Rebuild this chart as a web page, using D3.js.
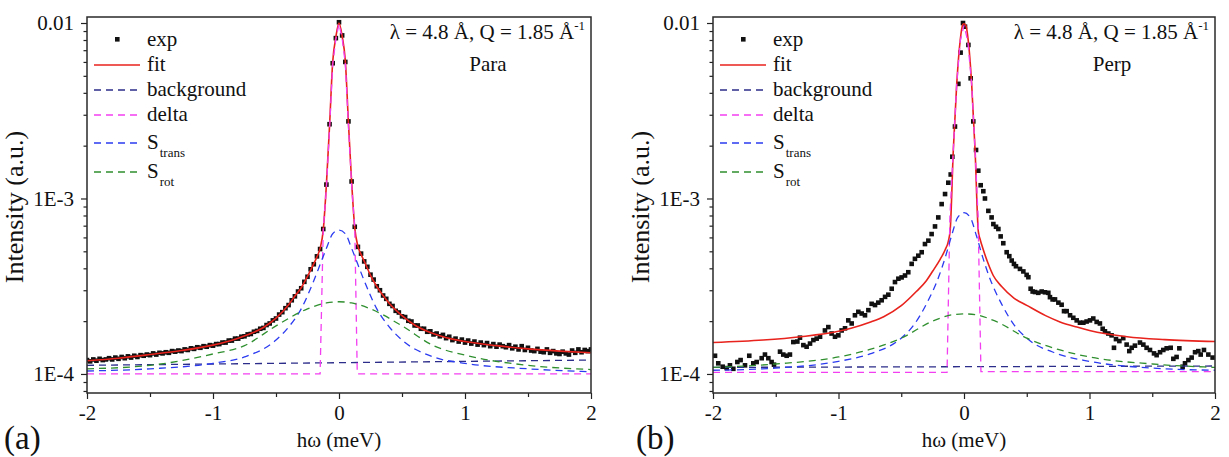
<!DOCTYPE html>
<html>
<head>
<meta charset="utf-8">
<script src="https://cdn.jsdelivr.net/npm/d3@7"></script>
<style>
    body { margin: 0; background: #fff; }
    svg, svg text { font-family: "Liberation Serif", "Times New Roman", serif; }
    .tick text { font-size: 21px; fill: #111; }
    .tick line { stroke: #222; stroke-width: 1.2; }
</style>
</head>
<body>
<svg width="1229" height="457"></svg>
<script>
// energy transfer (meV) vs intensity (a.u.)

const expPara = [
    [-2,1.20e-4],[-1.975,1.18e-4],[-1.95,1.21e-4],[-1.925,1.19e-4],[-1.9,1.22e-4],[-1.875,1.20e-4],[-1.85,1.21e-4],[-1.825,1.23e-4],[-1.8,1.21e-4],[-1.775,1.24e-4],
    [-1.75,1.22e-4],[-1.725,1.25e-4],[-1.7,1.23e-4],[-1.675,1.26e-4],[-1.65,1.24e-4],[-1.625,1.27e-4],[-1.6,1.25e-4],[-1.575,1.28e-4],[-1.55,1.27e-4],[-1.525,1.29e-4],
    [-1.5,1.28e-4],[-1.475,1.31e-4],[-1.45,1.29e-4],[-1.425,1.32e-4],[-1.4,1.31e-4],[-1.375,1.33e-4],[-1.35,1.32e-4],[-1.325,1.35e-4],[-1.3,1.34e-4],[-1.275,1.36e-4],
    [-1.25,1.35e-4],[-1.225,1.38e-4],[-1.2,1.37e-4],[-1.175,1.40e-4],[-1.15,1.39e-4],[-1.125,1.42e-4],[-1.1,1.41e-4],[-1.075,1.44e-4],[-1.05,1.43e-4],[-1.025,1.46e-4],
    [-1,1.45e-4],[-0.975,1.48e-4],[-0.95,1.48e-4],[-0.925,1.51e-4],[-0.9,1.51e-4],[-0.875,1.55e-4],[-0.85,1.55e-4],[-0.825,1.59e-4],[-0.8,1.59e-4],[-0.775,1.63e-4],
    [-0.75,1.64e-4],[-0.725,1.68e-4],[-0.7,1.69e-4],[-0.675,1.74e-4],[-0.65,1.76e-4],[-0.625,1.81e-4],[-0.6,1.83e-4],[-0.575,1.90e-4],[-0.55,1.94e-4],[-0.525,2.02e-4],
    [-0.5,2.07e-4],[-0.475,2.18e-4],[-0.45,2.25e-4],[-0.425,2.37e-4],[-0.4,2.47e-4],[-0.375,2.63e-4],[-0.35,2.77e-4],[-0.325,2.95e-4],[-0.3,3.08e-4],[-0.275,3.35e-4],
    [-0.25,3.58e-4],[-0.225,3.95e-4],[-0.2,4.22e-4],[-0.175,4.68e-4],[-0.15,5.15e-4],[-0.125,6.7e-4],[-0.1,1.2e-3],[-0.075,2.65e-3],[-0.05,5.9e-3],[-0.025,8.2e-3],
    [0,1.01e-2],[0.025,8.5e-3],[0.05,6.0e-3],[0.075,2.75e-3],[0.1,1.25e-3],[0.125,6.9e-4],[0.15,5.3e-4],[0.175,4.85e-4],[0.2,4.38e-4],[0.225,4.08e-4],
    [0.25,3.68e-4],[0.275,3.45e-4],[0.3,3.16e-4],[0.325,3.00e-4],[0.35,2.80e-4],[0.375,2.68e-4],[0.4,2.51e-4],[0.425,2.44e-4],[0.45,2.29e-4],[0.475,2.24e-4],
    [0.5,2.13e-4],[0.525,2.11e-4],[0.55,2.01e-4],[0.575,1.99e-4],[0.6,1.89e-4],[0.625,1.89e-4],[0.65,1.81e-4],[0.675,1.81e-4],[0.7,1.74e-4],[0.725,1.75e-4],
    [0.75,1.68e-4],[0.775,1.70e-4],[0.8,1.64e-4],[0.825,1.67e-4],[0.85,1.60e-4],[0.875,1.63e-4],[0.9,1.56e-4],[0.925,1.59e-4],[0.95,1.53e-4],[0.975,1.57e-4],
    [1,1.51e-4],[1.025,1.55e-4],[1.05,1.49e-4],[1.075,1.53e-4],[1.1,1.47e-4],[1.125,1.51e-4],[1.15,1.46e-4],[1.175,1.50e-4],[1.2,1.44e-4],[1.225,1.48e-4],
    [1.25,1.43e-4],[1.275,1.47e-4],[1.3,1.44e-4],[1.325,1.42e-4],[1.35,1.46e-4],[1.375,1.40e-4],[1.4,1.43e-4],[1.425,1.38e-4],[1.45,1.44e-4],[1.475,1.37e-4],
    [1.5,1.41e-4],[1.525,1.36e-4],[1.55,1.35e-4],[1.575,1.39e-4],[1.6,1.34e-4],[1.625,1.33e-4],[1.65,1.38e-4],[1.675,1.32e-4],[1.7,1.35e-4],[1.725,1.31e-4],
    [1.75,1.30e-4],[1.775,1.34e-4],[1.8,1.31e-4],[1.825,1.29e-4],[1.85,1.36e-4],[1.875,1.32e-4],[1.9,1.38e-4],[1.925,1.33e-4],[1.95,1.37e-4],[1.975,1.35e-4],
    [2,1.38e-4]
];
const fitPara = [
    [-2,1.19e-4],[-1.75,1.23e-4],[-1.5,1.29e-4],[-1.25,1.36e-4],[-1,1.46e-4],[-0.9,1.52e-4],[-0.8,1.60e-4],[-0.7,1.70e-4],[-0.6,1.84e-4],[-0.5,2.08e-4],
    [-0.4,2.48e-4],[-0.35,2.78e-4],[-0.3,3.1e-4],[-0.25,3.6e-4],[-0.2,4.25e-4],[-0.175,4.65e-4],[-0.15,5.2e-4],[-0.125,6.6e-4],[-0.1,1.2e-3],[-0.075,2.6e-3],
    [-0.05,6.0e-3],[-0.025,8.3e-3],[0,1.0e-2],[0.025,8.4e-3],[0.05,6.1e-3],[0.075,2.7e-3],[0.1,1.25e-3],[0.125,6.8e-4],[0.15,5.35e-4],[0.175,4.8e-4],
    [0.2,4.4e-4],[0.25,3.65e-4],[0.3,3.15e-4],[0.35,2.8e-4],[0.4,2.52e-4],[0.5,2.15e-4],[0.6,1.9e-4],[0.7,1.75e-4],[0.8,1.65e-4],[0.9,1.58e-4],
    [1,1.53e-4],[1.25,1.45e-4],[1.5,1.39e-4],[1.75,1.35e-4],[2,1.32e-4]
];
const bgPara = [[-2,1.12e-4],[2,1.20e-4]];
const deltaPara = [
    [-2,1.0e-4],[-0.15,1.0e-4],[-0.125,6.6e-4],[-0.1,1.15e-3],[-0.075,2.5e-3],[-0.05,5.8e-3],[-0.025,8.1e-3],[0,9.9e-3],
    [0.025,8.2e-3],[0.05,5.9e-3],[0.075,2.6e-3],[0.1,1.2e-3],[0.125,6.8e-4],[0.145,1.0e-4],[2,1.0e-4]
];
const transPara = [
    [-2,1.04e-4],[-1.5,1.07e-4],[-1,1.15e-4],[-0.75,1.25e-4],[-0.5,1.56e-4],[-0.4,1.85e-4],[-0.3,2.35e-4],[-0.2,3.4e-4],[-0.15,4.2e-4],[-0.1,5.2e-4],
    [-0.05,6.3e-4],[0,6.6e-4],[0.05,6.3e-4],[0.1,5.2e-4],[0.15,4.2e-4],[0.2,3.4e-4],[0.3,2.35e-4],[0.4,1.85e-4],[0.5,1.56e-4],[0.75,1.25e-4],
    [1,1.15e-4],[1.5,1.07e-4],[2,1.03e-4]
];
const rotPara = [
    [-2,1.07e-4],[-1.5,1.12e-4],[-1,1.30e-4],[-0.75,1.45e-4],[-0.5,1.88e-4],[-0.25,2.35e-4],[-0.1,2.54e-4],[0,2.58e-4],
    [0.1,2.54e-4],[0.25,2.35e-4],[0.5,1.88e-4],[0.75,1.45e-4],[1,1.28e-4],[1.5,1.12e-4],[2,1.06e-4]
];

const expPerp = [
    [-1.984,1.27e-4],[-1.958,1.15e-4],[-1.923,1.10e-4],[-1.891,1.08e-4],[-1.865,1.12e-4],[-1.838,1.07e-4],[-1.806,1.17e-4],[-1.78,1.20e-4],[-1.745,1.12e-4],[-1.711,1.27e-4],
    [-1.679,1.15e-4],[-1.652,1.17e-4],[-1.612,1.23e-4],[-1.586,1.29e-4],[-1.559,1.23e-4],[-1.533,1.17e-4],[-1.514,1.13e-4],[-1.466,1.34e-4],[-1.44,1.29e-4],[-1.413,1.27e-4],
    [-1.387,1.29e-4],[-1.36,1.52e-4],[-1.328,1.53e-4],[-1.307,1.61e-4],[-1.28,1.46e-4],[-1.254,1.43e-4],[-1.227,1.49e-4],[-1.2,1.56e-4],[-1.174,1.59e-4],[-1.147,1.63e-4],
    [-1.108,1.77e-4],[-1.081,1.85e-4],[-1.055,1.70e-4],[-1.028,1.63e-4],[-1.001,1.66e-4],[-0.975,1.77e-4],[-0.948,1.82e-4],[-0.922,2.02e-4],[-0.895,1.94e-4],[-0.869,2.16e-4],
    [-0.842,2.26e-4],[-0.815,2.21e-4],[-0.789,2.16e-4],[-0.762,2.31e-4],[-0.736,2.51e-4],[-0.709,2.47e-4],[-0.683,2.55e-4],[-0.656,2.63e-4],[-0.629,2.75e-4],[-0.603,2.83e-4],
    [-0.576,3.06e-4],[-0.55,3.34e-4],[-0.523,3.49e-4],[-0.497,3.55e-4],[-0.47,3.64e-4],[-0.444,3.80e-4],[-0.417,4.24e-4],[-0.391,4.53e-4],[-0.364,4.72e-4],[-0.337,4.94e-4],
    [-0.311,5.50e-4],[-0.284,5.75e-4],[-0.258,6.27e-4],[-0.231,6.93e-4],[-0.205,7.80e-4],[-0.178,9.29e-4],[-0.151,1.06e-3],[-0.125,1.23e-3],[-0.106,1.37e-3],
    [-0.093,1.73e-3],[-0.072,2.57e-3],[-0.045,4.5e-3],[-0.027,6.78e-3],[-0.008,1.0e-2],[0.008,9.53e-3],[0.035,7.5e-3],[0.053,4.84e-3],[0.074,2.75e-3],[0.096,1.89e-3],
    [0.114,1.44e-3],[0.133,1.19e-3],[0.154,1.10e-3],[0.167,1.0e-3],[0.194,8.5e-4],[0.22,7.8e-4],[0.234,7.15e-4],[0.255,6.9e-4],[0.274,6.7e-4],[0.292,6.08e-4],
    [0.313,5.56e-4],[0.34,4.94e-4],[0.361,4.69e-4],[0.38,4.43e-4],[0.398,4.24e-4],[0.414,4.11e-4],[0.446,3.97e-4],[0.473,3.84e-4],[0.499,3.67e-4],[0.513,3.56e-4],
    [0.531,3.06e-4],[0.547,2.95e-4],[0.566,2.93e-4],[0.592,2.90e-4],[0.619,2.95e-4],[0.645,2.92e-4],[0.672,2.90e-4],[0.685,2.74e-4],[0.706,2.66e-4],[0.725,2.66e-4],
    [0.752,2.55e-4],[0.778,2.48e-4],[0.797,2.28e-4],[0.818,2.28e-4],[0.845,2.16e-4],[0.871,2.09e-4],[0.898,2.02e-4],[0.924,1.96e-4],[0.951,1.96e-4],[0.977,1.99e-4],
    [1.004,2.02e-4],[1.03,2.07e-4],[1.057,1.98e-4],[1.083,1.94e-4],[1.105,1.81e-4],[1.123,1.75e-4],[1.15,1.70e-4],[1.176,1.66e-4],[1.195,1.41e-4],[1.211,1.58e-4],
    [1.238,1.54e-4],[1.269,1.60e-4],[1.296,1.47e-4],[1.317,1.35e-4],[1.336,1.41e-4],[1.362,1.45e-4],[1.402,1.51e-4],[1.429,1.47e-4],[1.455,1.41e-4],[1.482,1.37e-4],
    [1.514,1.31e-4],[1.535,1.28e-4],[1.562,1.33e-4],[1.588,1.37e-4],[1.615,1.40e-4],[1.647,1.41e-4],[1.668,1.22e-4],[1.694,1.25e-4],[1.716,1.40e-4],[1.742,1.10e-4],
    [1.761,1.15e-4],[1.788,1.20e-4],[1.814,1.24e-4],[1.841,1.33e-4],[1.867,1.35e-4],[1.886,1.29e-4],[1.912,1.37e-4],[1.947,1.29e-4],[1.981,1.24e-4]
];
const fitPerp = [
    [-2,1.51e-4],[-1.6,1.56e-4],[-1.3,1.63e-4],[-1,1.75e-4],[-0.9,1.82e-4],[-0.75,1.97e-4],[-0.64,2.12e-4],[-0.5,2.45e-4],[-0.38,2.95e-4],[-0.3,3.4e-4],
    [-0.25,3.85e-4],[-0.19,4.5e-4],[-0.15,5.1e-4],[-0.125,5.7e-4],[-0.11,6.6e-4],[-0.085,1.9e-3],[-0.058,4.5e-3],[-0.03,8.0e-3],[-0.01,9.8e-3],[0,9.9e-3],
    [0.015,9.7e-3],[0.035,7.8e-3],[0.061,4.5e-3],[0.088,1.9e-3],[0.114,6.5e-4],[0.13,5.8e-4],[0.15,5.2e-4],[0.19,4.3e-4],[0.233,3.64e-4],[0.3,3.15e-4],
    [0.4,2.7e-4],[0.5,2.46e-4],[0.65,2.15e-4],[0.765,1.98e-4],[0.9,1.85e-4],[1,1.77e-4],[1.3,1.63e-4],[1.6,1.57e-4],[2,1.53e-4]
];
const bgPerp = [[-2,1.09e-4],[2,1.11e-4]];
const deltaPerp = [
    [-2,1.02e-4],[-0.135,1.02e-4],[-0.112,8.0e-4],[-0.085,1.9e-3],[-0.058,4.5e-3],[-0.03,7.9e-3],[0,9.7e-3],
    [0.03,7.9e-3],[0.061,4.5e-3],[0.088,1.9e-3],[0.112,8.0e-4],[0.135,1.03e-4],[2,1.03e-4]
];
const transPerp = [
    [-2,1.05e-4],[-1.5,1.08e-4],[-1,1.18e-4],[-0.75,1.30e-4],[-0.5,1.60e-4],[-0.4,1.90e-4],[-0.3,2.5e-4],[-0.2,3.6e-4],[-0.15,4.6e-4],[-0.1,6.1e-4],
    [-0.05,7.8e-4],[0,8.3e-4],[0.05,7.8e-4],[0.1,6.1e-4],[0.15,4.6e-4],[0.2,3.6e-4],[0.3,2.5e-4],[0.4,1.90e-4],[0.5,1.60e-4],[0.75,1.30e-4],
    [1,1.18e-4],[1.5,1.08e-4],[2,1.05e-4]
];
const rotPerp = [
    [-2,1.09e-4],[-1.5,1.14e-4],[-1,1.25e-4],[-0.75,1.38e-4],[-0.5,1.60e-4],[-0.25,2.0e-4],[-0.1,2.17e-4],[0,2.2e-4],
    [0.1,2.17e-4],[0.25,2.0e-4],[0.5,1.60e-4],[0.75,1.38e-4],[1,1.25e-4],[1.5,1.14e-4],[2,1.09e-4]
];

const xMajor = [-2, -1, 0, 1, 2];
const xMinor = [-1.5, -0.5, 0.5, 1.5];
const xTickLabels = ["-2", "-1", "0", "1", "2"];
const yMajor = [1e-4, 1e-3, 1e-2];
const yTickLabels = ["1E-4", "1E-3", "0.01"];
const legendNames = ["exp", "fit", "background", "delta", "S", "S"];
const legendSubs = ["", "", "", "", "trans", "rot"];

const svg = d3.select("svg");
const serif = '"Liberation Serif", "Times New Roman", serif';
const yTop = 17, yBot = 393;

const styles = {
    fit:   { color: "#e8221c", dash: null },
    bg:    { color: "#2c2c8a", dash: "7,5" },
    delta: { color: "#f23ff0", dash: "7,5" },
    trans: { color: "#2b3bf0", dash: "7,5" },
    rot:   { color: "#2f8f2f", dash: "7,5" }
};

const panels = [
    { id: "a", x0: 87, x1: 591, exp: expPara, fit: fitPara, bg: bgPara, delta: deltaPara, trans: transPara, rot: rotPara,
      tag: "(a)", tagX: 4, title: "Para" },
    { id: "b", x0: 713, x1: 1215, exp: expPerp, fit: fitPerp, bg: bgPerp, delta: deltaPerp, trans: transPerp, rot: rotPerp,
      tag: "(b)", tagX: 636, title: "Perp" }
];

const render = p => {
    const x = d3.scaleLinear().domain([-2, 2]).range([p.x0, p.x1]);
    const y = d3.scaleLog().domain([7.79e-5, 1.082e-2]).range([yBot, yTop]);
    const g = svg.append("g").attr("font-family", serif);

    g.append("clipPath").attr("id", "clip-" + p.id)
        .append("rect").attr("x", p.x0).attr("y", yTop).attr("width", p.x1 - p.x0).attr("height", yBot - yTop);

    // axes (major + minor ticks, frame drawn separately)
    const noDomain = a => a.attr("font-family", serif).select(".domain").remove();
    g.append("g").attr("transform", `translate(0,${yBot})`)
        .call(d3.axisBottom(x).tickValues(xMajor).tickSize(6).tickPadding(6).tickFormat((d, i) => xTickLabels[i]))
        .call(noDomain);
    g.append("g").attr("transform", `translate(0,${yBot})`)
        .call(d3.axisBottom(x).tickValues(xMinor).tickSize(4).tickFormat(""))
        .call(noDomain);
    g.append("g").attr("transform", `translate(${p.x0},0)`)
        .call(d3.axisLeft(y).tickValues(yMajor).tickSize(6).tickPadding(7).tickFormat((d, i) => yTickLabels[i]))
        .call(noDomain);
    g.append("g").attr("transform", `translate(${p.x0},0)`)
        .call(d3.axisLeft(y).tickValues(y.ticks().filter(t => !yMajor.some(m => Math.abs(m - t) / m < 1e-6))).tickSize(3.5).tickFormat(""))
        .call(noDomain);

    const plot = g.append("g").attr("clip-path", `url(#clip-${p.id})`);

    plot.selectAll("rect.exp").data(p.exp).enter().append("rect")
        .attr("class", "exp")
        .attr("x", d => x(d[0]) - 2.3).attr("y", d => y(d[1]) - 2.3)
        .attr("width", 4.6).attr("height", 4.6)
        .attr("fill", "#111");

    const smooth = d3.line().x(d => x(d[0])).y(d => y(d[1])).curve(d3.curveMonotoneX);
    const straight = d3.line().x(d => x(d[0])).y(d => y(d[1]));

    const drawLine = (data, st, gen, w) => plot.append("path")
        .attr("d", gen(data))
        .attr("fill", "none")
        .attr("stroke", st.color)
        .attr("stroke-width", w)
        .attr("stroke-dasharray", st.dash);

    drawLine(p.fit, styles.fit, smooth, 1.6);
    drawLine(p.bg, styles.bg, straight, 1.3);
    drawLine(p.delta, styles.delta, straight, 1.3);
    drawLine(p.trans, styles.trans, smooth, 1.3);
    drawLine(p.rot, styles.rot, smooth, 1.3);

    // frame
    g.append("rect").attr("x", p.x0).attr("y", yTop)
        .attr("width", p.x1 - p.x0).attr("height", yBot - yTop)
        .attr("fill", "none").attr("stroke", "#2a2a2a").attr("stroke-width", 1.5);

    // legend
    const legendStyles = [null, styles.fit, styles.bg, styles.delta, styles.trans, styles.rot];
    const baselines = [46, 71, 96, 121, 149, 178];
    legendNames.forEach((name, i) => {
        const by = baselines[i];
        if (i === 0) {
            g.append("rect").attr("x", p.x0 + 28).attr("y", by - 9).attr("width", 4.6).attr("height", 4.6).attr("fill", "#111");
        } else {
            g.append("line").attr("x1", p.x0 + 7).attr("x2", p.x0 + 53)
                .attr("y1", by - 6).attr("y2", by - 6)
                .attr("stroke", legendStyles[i].color).attr("stroke-width", 1.4)
                .attr("stroke-dasharray", legendStyles[i].dash);
        }
        const t = g.append("text").attr("x", p.x0 + 60).attr("y", by)
            .attr("font-size", 21).attr("fill", "#111").text(name);
        if (legendSubs[i]) {
            t.append("tspan").attr("font-size", 13).attr("dy", 8).attr("dx", 1).text(legendSubs[i]);
        }
    });

    // annotation
    const ann = g.append("text").attr("x", p.x1 - 6).attr("y", 39)
        .attr("text-anchor", "end").attr("font-size", 21).attr("fill", "#111")
        .text("λ = 4.8 Å, Q = 1.85 Å");
    ann.append("tspan").attr("font-size", 13).attr("dy", -9).text("-1");
    g.append("text").attr("x", p.x1 - 103).attr("y", 71)
        .attr("text-anchor", "middle").attr("font-size", 21).attr("fill", "#111")
        .text(p.title);

    // axis titles
    g.append("text").attr("transform", `translate(${p.x0 - 64},207) rotate(-90)`)
        .attr("text-anchor", "middle").attr("font-size", 26).attr("fill", "#111")
        .text("Intensity (a.u.)");
    g.append("text").attr("x", (p.x0 + p.x1) / 2).attr("y", 447)
        .attr("text-anchor", "middle").attr("font-size", 21).attr("fill", "#111")
        .text("hω (meV)");
    g.append("text").attr("x", p.tagX).attr("y", 449)
        .attr("font-size", 33).attr("fill", "#111")
        .text(p.tag);
};

panels.forEach(render);
</script>
</body>
</html>
